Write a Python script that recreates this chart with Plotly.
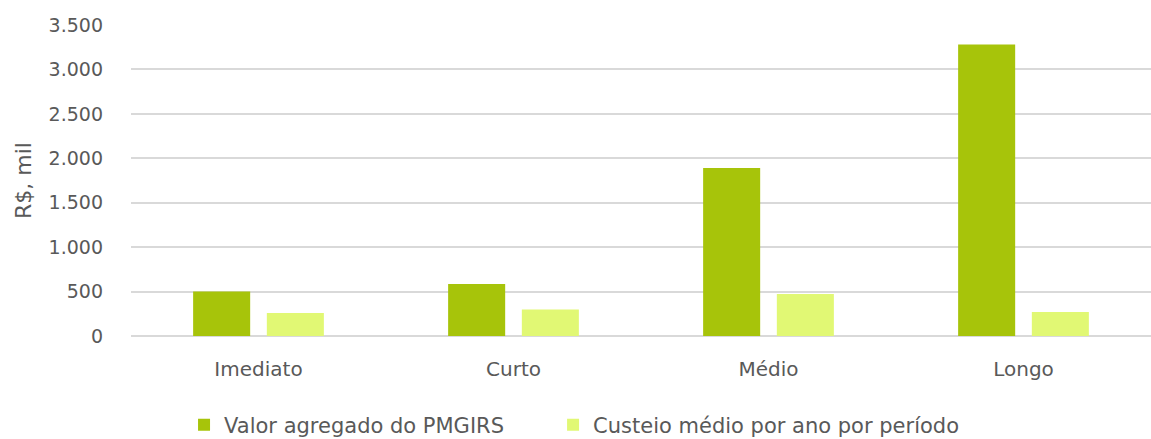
import plotly.graph_objects as go

# Periods of the plan and the two cost series (R$ thousand)
periodos = ["Imediato", "Curto", "Médio", "Longo"]
valor_agregado = [500, 585, 1890, 3280]
custeio_medio = [258, 298, 472, 270]

serie_nomes = ["Valor agregado do PMGIRS", "Custeio médio por ano por período"]
cores = ["#a7c40a", "#e1f874"]
legendas = ["legend", "legend2"]

eixo_y_ticks = [0, 500, 1000, 1500, 2000, 2500, 3000, 3500]

fonte = "DejaVu Sans, Segoe UI, sans-serif"
cinza = "#595959"

fig = go.Figure()
for nome, valores, cor, leg in zip(serie_nomes, [valor_agregado, custeio_medio], cores, legendas):
    fig.add_trace(go.Bar(
        x=periodos, y=valores, name=nome, legend=leg,
        marker=dict(color=cor, line=dict(width=0)),
    ))

legenda_base = dict(
    orientation="h", xanchor="left",
    yref="container", y=14 / 439, yanchor="middle",
    font=dict(size=21, color=cinza), bgcolor="rgba(0,0,0,0)",
)

fig.update_layout(
    width=1151, height=439,
    margin=dict(l=131, r=0, t=25, b=103, autoexpand=False),
    paper_bgcolor="white", plot_bgcolor="white",
    barmode="group", bargap=0.422, bargroupgap=0.226,
    separators=",.",
    font=dict(family=fonte, color=cinza, size=20),
    showlegend=True,
    legend=dict(legenda_base, x=0.052),
    legend2=dict(legenda_base, x=0.4138),
    xaxis=dict(
        automargin=False,
        showgrid=False, showline=False, zeroline=False,
        tickfont=dict(size=20, color=cinza), ticks="", ticklabelstandoff=19,
    ),
    yaxis=dict(
        automargin=False,
        range=[0, 3500], tickvals=eixo_y_ticks, tickformat=",d", separatethousands=True,
        showgrid=True, gridcolor="#d9d9d9", gridwidth=1.5,
        zeroline=True, zerolinecolor="#d9d9d9", zerolinewidth=1.5,
        showline=False, ticks="", ticklabelstandoff=27,
        tickfont=dict(size=19, color=cinza),
        title=dict(text="R$, mil", font=dict(size=22, color=cinza), standoff=10),
    ),
)

fig.write_html("out.html")
